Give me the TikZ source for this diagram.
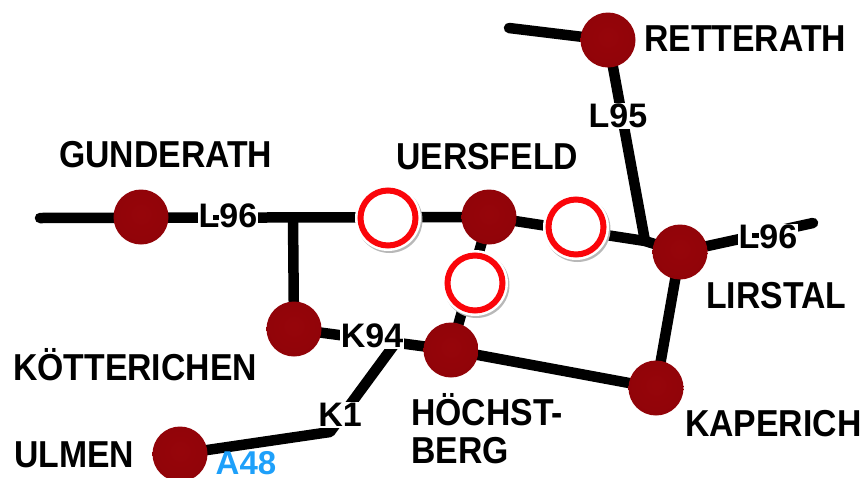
\documentclass[tikz,border=0pt]{standalone}
\usepackage{fontspec}
\setmainfont{Liberation Sans}[FakeStretch=0.9]
\newfontfamily\labelfont{Liberation Sans}
\usetikzlibrary{calc}
\definecolor{ringred}{RGB}{250,5,10}
\definecolor{roadblue}{RGB}{30,160,250}
\pgfdeclareradialshading{flatball}{\pgfpoint{0bp}{3bp}}{
  rgb(0bp)=(0.59,0.02,0.04);
  rgb(36bp)=(0.56,0.01,0.03);
  rgb(46bp)=(0.50,0.02,0.04);
  rgb(50bp)=(0.42,0.02,0.04);
  rgb(56bp)=(0.62,0.20,0.20)}
\tikzset{
  x=1pt,y=-1pt,
  road/.style={line width=10.5pt,black,line cap=round},
  town/.style={circle,minimum size=55pt,inner sep=0pt,shading=flatball},
  closure/.style={circle,minimum size=55pt,inner sep=0pt,draw=ringred,line width=6pt,fill=white},
  place/.style={font=\bfseries\fontsize{37.5}{40}\selectfont,inner sep=0pt,anchor=west,align=left},
  roadlabel/.style={font=\labelfont\bfseries\fontsize{34}{36}\selectfont,inner sep=1pt,fill=white,text=black},
}
\begin{document}
\begin{tikzpicture}
\useasboundingbox (0,0) rectangle (866,477);
\coordinate (gw) at (40,218);
\coordinate (jn) at (293,218);
\coordinate (re) at (509,28);
\coordinate (lj) at (645,241);
\coordinate (le) at (813,223);
\coordinate (ki) at (394,345);
\coordinate (kj) at (330,432);
\coordinate (gun) at (141,217);
\coordinate (ret) at (608,40);
\coordinate (uer) at (489,217);
\coordinate (lir) at (680,252);
\coordinate (kot) at (294,329);
\coordinate (hoe) at (451,350);
\coordinate (kap) at (656,388);
\coordinate (ulm) at (180,454);
\draw[road] (re) -- (ret);
\draw[road] (ret) -- (lj);
\draw[road] (gw) -- (uer);
\draw[road] (uer) -- (lj) -- (lir);
\draw[road] (lir) -- (le);
\draw[road] (jn) -- (kot);
\draw[road] (kot) -- (hoe);
\draw[road] (hoe) -- (kap);
\draw[road] (lir) -- (kap);
\draw[road] (uer) -- (hoe);
\draw[road,line join=round] (ki) -- (kj) -- (ulm);
\node[town] (nret) at (ret) {};
\node[town] (ngun) at (gun) {};
\node[town] (nuer) at (uer) {};
\node[town] (nlir) at (lir) {};
\node[town] (nkot) at (kot) {};
\node[town] (nhoe) at (hoe) {};
\node[town] (nkap) at (kap) {};
\node[town] (nulm) at (ulm) {};
\foreach \n/\p in {c1/{388,218},c2/{576,227},c3/{475,283}}{
  \fill[black!28] ($(\p)+(1.5,2)$) circle (33pt);
  \fill[white] (\p) circle (33pt);
  \node[closure] (\n) at (\p) {};
}
\node[place] (tret) at (644,39) {RETTERATH};
\node[place] (tgun) at (59,155) {GUNDERATH};
\node[place] (tuer) at (396,157) {UERSFELD};
\node[place] (tlir) at (706,296) {LIRSTAL};
\node[place] (tkot) at (13,365) {KÖTTERICHEN};
\node[place] (tkap) at (685,424) {KAPERICH};
\node[place] (tulm) at (14,455) {ULMEN};
\node[place] (thoe) at (411,429) {HÖCHST-\\[-2pt]BERG};
\node[roadlabel] (l95) at (618,116) {L95};
\node[roadlabel] (l96a) at (228,216) {L96};
\node[roadlabel] (l96b) at (768,237) {L96};
\node[roadlabel] (k94) at (372,336) {K94};
\node[roadlabel] (k1) at (340,415) {K1};
\fill[black] (213,215) rectangle (219,220);
\fill[black] (752,233) rectangle (759,238);
\node[font=\labelfont\bfseries\fontsize{33}{36}\selectfont,text=roadblue,inner sep=0pt] (a48) at (246,463) {A48};
\end{tikzpicture}
\end{document}
